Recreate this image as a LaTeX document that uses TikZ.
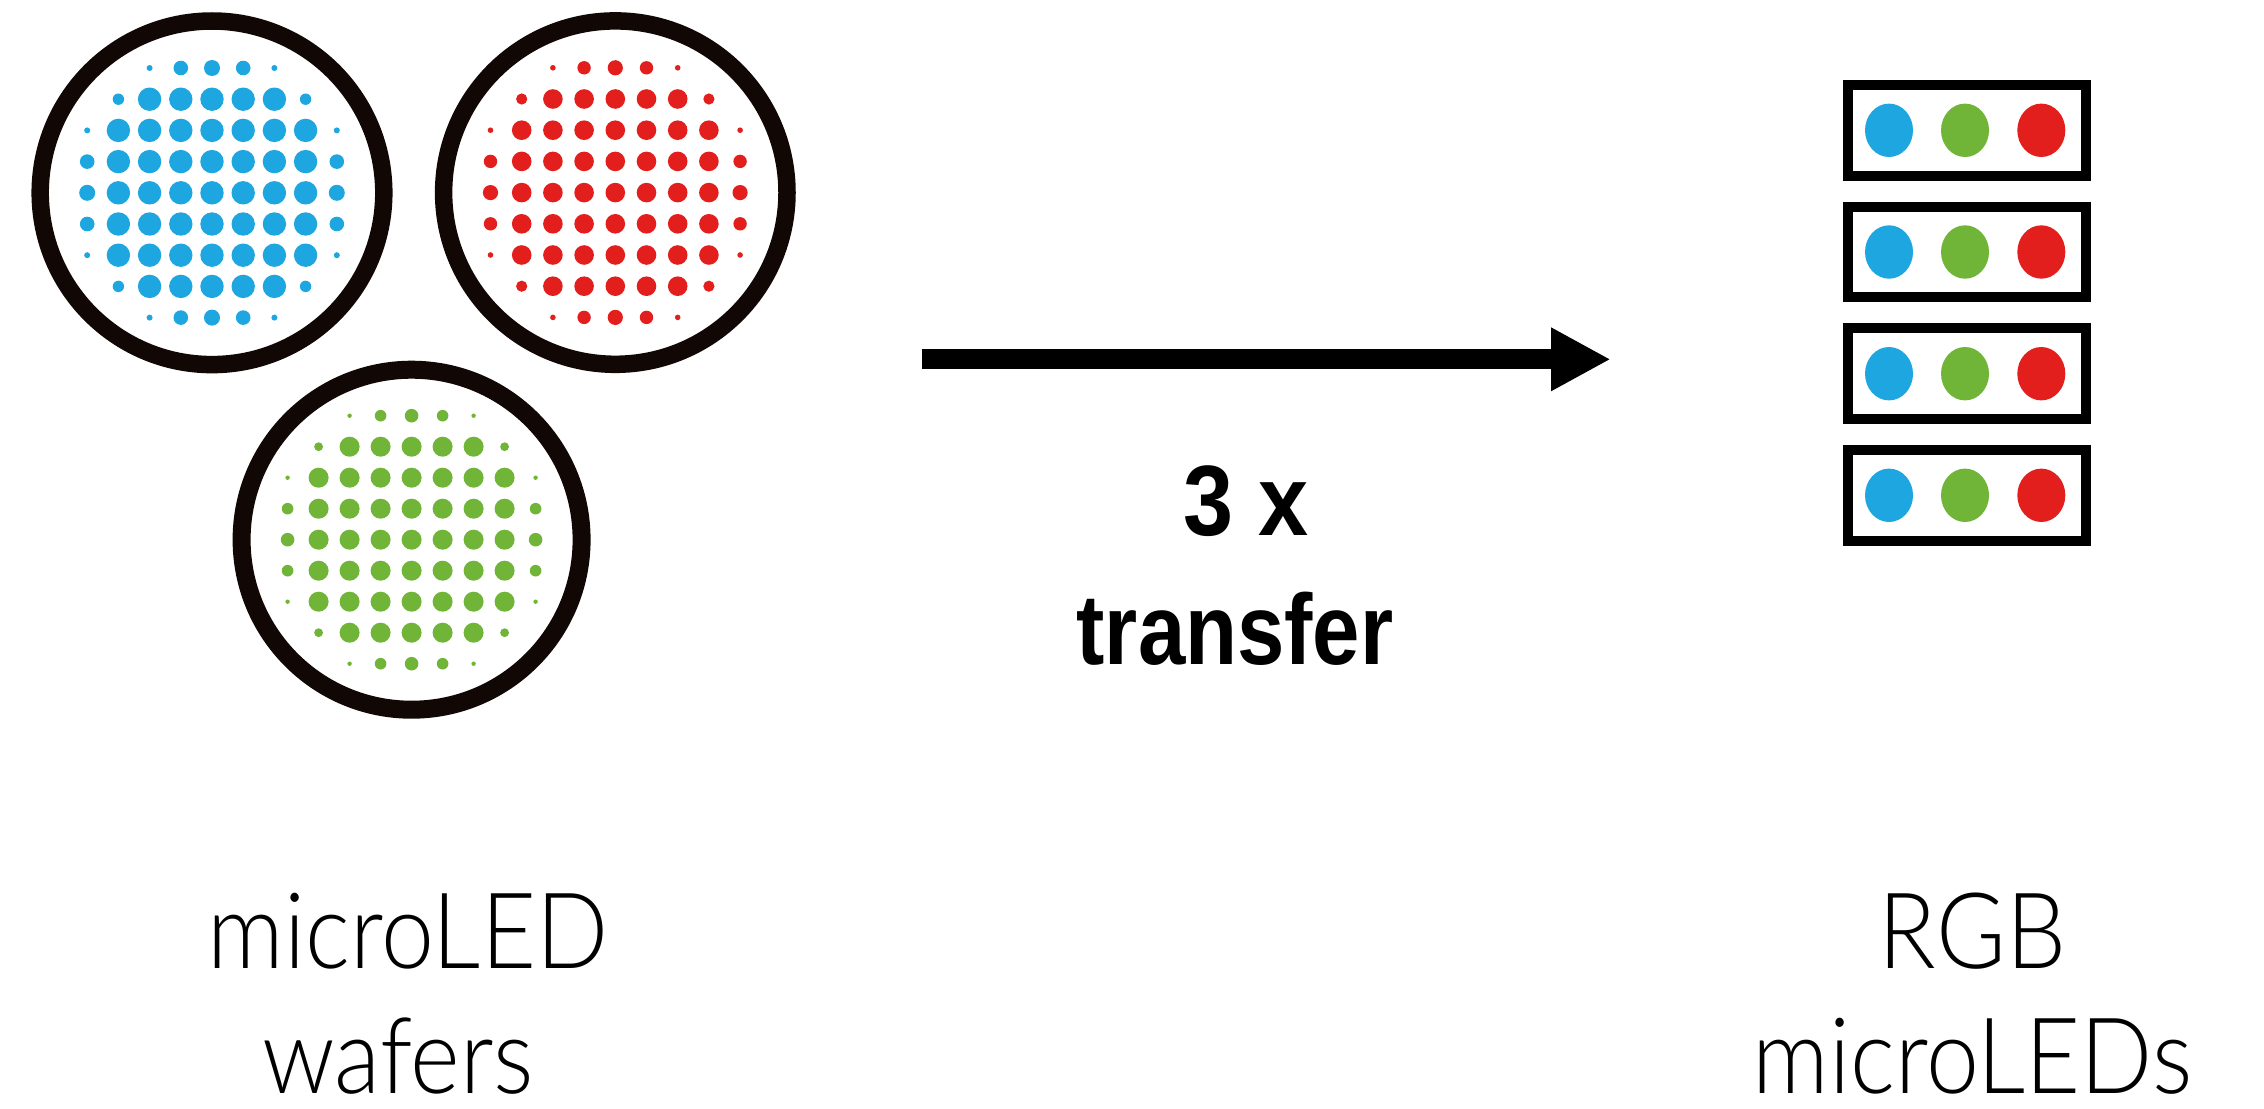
\documentclass[tikz,border=0pt]{standalone}
\usepackage{fontspec}
\usepackage{graphicx}
\usetikzlibrary{arrows.meta}
\newfontfamily\lightfont{Lato Light}
\newfontfamily\headfont{Liberation Sans}

\definecolor{ringblack}{RGB}{17,8,6}
\definecolor{ledblue}{RGB}{29,166,223}
\definecolor{ledgreen}{RGB}{112,181,56}
\definecolor{ledred}{RGB}{227,31,30}

% Dot pattern of one wafer:
% #1 centre, #2 colour, #3 pitch, #4 full dot radius, #5 rim middle radius,
% #6 rim radius next to it, #7 corner radius, #8 smallest rim radius
\newcommand\waferdots[8]{%
  \begin{scope}[shift={(#1)}]
    \foreach \r in {-3,...,3}{
      \foreach \c in {-3,...,3}{
        \ifnum\numexpr\r*\r+\c*\c\relax=18
          \fill[#2] (\c*#3,\r*#3) circle[radius=#7];
        \else
          \fill[#2] (\c*#3,\r*#3) circle[radius=#4];
        \fi
      }
    }
    \foreach \s in {-1,1}{
      \fill[#2] (0,\s*4*#3) circle[radius=#5];
      \fill[#2] (\s*4*#3,0) circle[radius=#5];
      \foreach \t in {-1,1}{
        \fill[#2] (\t*#3,\s*4*#3) circle[radius=#6];
        \fill[#2] (\s*4*#3,\t*#3) circle[radius=#6];
        \fill[#2] (\t*2*#3,\s*4*#3) circle[radius=#8];
        \fill[#2] (\s*4*#3,\t*2*#3) circle[radius=#8];
      }
    }
  \end{scope}%
}

\begin{document}
\begin{tikzpicture}[x=0.5pt,y=-0.5pt,
  wafer/.style={circle,draw=ringblack,inner sep=0pt,outer sep=0pt},
  cell/.style={rectangle,draw=black,line width=5pt,inner sep=0pt,
    minimum width=118.7pt,minimum height=45.35pt},
  lighttext/.style={anchor=base,inner sep=0pt,font=\lightfont\fontsize{52.8pt}{60pt}\selectfont},
  boldtext/.style={anchor=base,inner sep=0pt,font=\headfont\bfseries\fontsize{50pt}{60pt}\selectfont},
  transferarrow/.style={line width=10pt,-{Triangle[length=29.85pt,width=29.65pt]}}]

  % canvas
  \fill[white] (0,0) rectangle (2264,1108);
  \useasboundingbox (0,0) rectangle (2264,1108);

  % three wafers
  \node[wafer,line width=8.75pt,minimum size=171.8pt] (bluewafer) at (212,192.8) {};
  \node[wafer,line width=8.75pt,minimum size=171.7pt] (redwafer) at (615.3,192.6) {};
  \node[wafer,line width=9pt,minimum size=170pt] (greenwafer) at (411.6,539.7) {};

  \waferdots{bluewafer}{ledblue}{31.2}{11.7}{8}{7.3}{5.7}{3}
  \waferdots{redwafer}{ledred}{31.2}{9.8}{7.6}{6.7}{5.6}{2.8}
  \waferdots{greenwafer}{ledgreen}{31}{10}{6.8}{5.8}{4.4}{2.2}

  % transfer arrow
  \coordinate (tail) at (921.7,359.3);
  \coordinate (tip) at (1610.7,359.3);
  \draw[transferarrow] (tail) -- (tip);

  \node[boldtext] (times) at (1245.8,535) {\scalebox{0.9}[1]{3 x}};
  \node[boldtext] (transfer) at (1235,664) {\scalebox{0.851}[1]{transfer}};

  % assembled RGB pixels
  \foreach \i/\y in {1/130.3,2/252,3/373.7,4/495.3}{
    \node[cell] (cell\i) at (1967,\y) {};
    \begin{scope}[shift={(cell\i)}]
      \fill[ledblue]  (-78,0) ellipse[x radius=24,y radius=26.7];
      \fill[ledgreen] (-2,0) ellipse[x radius=24,y radius=26.7];
      \fill[ledred]   (74.3,0) ellipse[x radius=24,y radius=26.7];
    \end{scope}
  }

  % captions
  \node[lighttext] (cap1a) at (408,968.3) {\scalebox{0.9}[1]{microLED}};
  \node[lighttext] (cap1b) at (398,1093.3) {\scalebox{0.9}[1]{wafers}};
  \node[lighttext] (cap2a) at (1972.5,968.3) {\scalebox{0.9}[1]{RGB}};
  \node[lighttext] (cap2b) at (1972.5,1093.3) {\scalebox{0.9}[1]{microLEDs}};
\end{tikzpicture}
\end{document}
